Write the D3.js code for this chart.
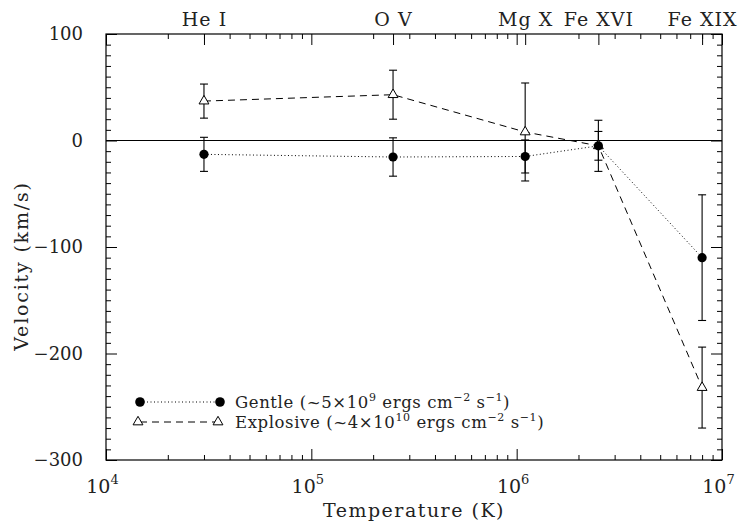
<!DOCTYPE html>
<html>
<head>
<meta charset="utf-8">
<script src="https://cdn.jsdelivr.net/npm/d3@7"></script>
<style>
  html, body { margin: 0; padding: 0; background: #fff; }
  svg { display: block; }
  text { font-family: "DejaVu Serif", serif; fill: #222; }
</style>
</head>
<body>
<svg id="chart" width="738" height="525"></svg>
<script>
// Spectral lines and their formation temperatures (K)
const ions = ["He I", "O V", "Mg X", "Fe XVI", "Fe XIX"];
const ionTemps = [3e4, 2.5e5, 1.1e6, 2.5e6, 8e6];

// Doppler velocities (km/s) and 1-sigma uncertainties
const gentleVel = [-13, -15.5, -15, -5, -110];
const gentleErr = [16, 18, 15.5, 13.5, 59];
const explosiveVel = [37, 43, 8, -5, -232];
const explosiveErr = [16, 23, 46, 24, 38];

// Axis ranges and tick values
const tempDomain = [1e4, 1e7];
const velDomain = [-300, 100];
const tempMajorExp = [4, 5, 6, 7];
const velMajorTicks = [-300, -200, -100, 0, 100];

const svg = d3.select("#chart");
const L = 106, R = 722, T = 34, B = 460;

const x = d3.scaleLog().domain(tempDomain).range([L, R]);
const y = d3.scaleLinear().domain(velDomain).range([B, T]);

const majorT = tempMajorExp.map(e => Math.pow(10, e));
const minorT = [];
for (let e = 4; e < 7; e++) for (let m = 2; m <= 9; m++) minorT.push(m * Math.pow(10, e));
const minorV = d3.range(-300, 101, 10).filter(v => v % 100 !== 0);

const MAJ = 11, MIN = 5;

function styleAxis(g) {
  g.select(".domain").remove();
  g.selectAll(".tick line").attr("stroke", "#000").attr("stroke-width", 1);
}

// bottom axis
svg.append("g").attr("transform", `translate(0,${B})`)
  .call(d3.axisBottom(x).tickValues(minorT).tickSize(-MIN).tickFormat(""))
  .call(styleAxis);
const bottomMajor = svg.append("g").attr("transform", `translate(0,${B})`)
  .call(d3.axisBottom(x).tickValues(majorT).tickSize(-MAJ).tickPadding(20))
  .call(styleAxis);
bottomMajor.selectAll(".tick text").each(function(d) {
  const t = d3.select(this).text(null)
    .attr("font-size", 19).attr("dy", "0.71em").attr("x", -4).attr("fill", "#222");
  t.append("tspan").text("10");
  t.append("tspan").attr("font-size", 13).attr("dy", "-0.75em").text(Math.round(Math.log10(d)));
});

// top axis
svg.append("g").attr("transform", `translate(0,${T})`)
  .call(d3.axisTop(x).tickValues(minorT).tickSize(-MIN).tickFormat(""))
  .call(styleAxis);
svg.append("g").attr("transform", `translate(0,${T})`)
  .call(d3.axisTop(x).tickValues(majorT).tickSize(-MAJ).tickFormat(""))
  .call(styleAxis);
const topIon = svg.append("g").attr("transform", `translate(0,${T})`)
  .call(d3.axisTop(x).tickValues(ionTemps).tickSize(-MAJ).tickPadding(8)
    .tickFormat((d, i) => ions[i]))
  .call(styleAxis);
topIon.selectAll(".tick text").attr("font-size", 19).attr("fill", "#222")
  .attr("font-family", "DejaVu Serif").style("letter-spacing", "1px");

// left axis
svg.append("g").attr("transform", `translate(${L},0)`)
  .call(d3.axisLeft(y).tickValues(minorV).tickSize(-MIN).tickFormat(""))
  .call(styleAxis);
const leftMajor = svg.append("g").attr("transform", `translate(${L},0)`)
  .call(d3.axisLeft(y).tickValues(velMajorTicks).tickSize(-MAJ).tickPadding(23))
  .call(styleAxis);
leftMajor.selectAll(".tick text").attr("font-size", 18).attr("fill", "#222")
  .attr("font-family", "DejaVu Serif");

// right axis
svg.append("g").attr("transform", `translate(${R},0)`)
  .call(d3.axisRight(y).tickValues(minorV).tickSize(-MIN).tickFormat(""))
  .call(styleAxis);
svg.append("g").attr("transform", `translate(${R},0)`)
  .call(d3.axisRight(y).tickValues(velMajorTicks).tickSize(-MAJ).tickFormat(""))
  .call(styleAxis);

// frame
svg.append("rect").attr("x", L).attr("y", T).attr("width", R - L).attr("height", B - T)
  .attr("fill", "none").attr("stroke", "#000").attr("stroke-width", 1.2);

// zero line
svg.append("line").attr("x1", L).attr("x2", R).attr("y1", y(0)).attr("y2", y(0))
  .attr("stroke", "#000").attr("stroke-width", 1.2);

// axis titles
svg.append("text").attr("x", (L + R) / 2).attr("y", 517).attr("text-anchor", "middle")
  .attr("font-size", 19).style("letter-spacing", "1.5px").text("Temperature (K)");
svg.append("text").attr("transform", "translate(28,266) rotate(-90)").attr("text-anchor", "middle")
  .attr("font-size", 19).style("letter-spacing", "1.8px").text("Velocity (km/s)");

const gentle = ionTemps.map((t, i) => ({ t, v: gentleVel[i], e: gentleErr[i] }));
const explosive = ionTemps.map((t, i) => ({ t, v: explosiveVel[i], e: explosiveErr[i] }));

const line = d3.line().x(d => x(d.t)).y(d => y(d.v));
const plot = svg.append("g");

function errorBars(data) {
  const g = plot.append("g").attr("stroke", "#000").attr("stroke-width", 1.1);
  data.forEach(d => {
    const cx = x(d.t), y1 = y(d.v + d.e), y2 = y(d.v - d.e);
    g.append("line").attr("x1", cx).attr("x2", cx).attr("y1", y1).attr("y2", y2);
    g.append("line").attr("x1", cx - 4).attr("x2", cx + 4).attr("y1", y1).attr("y2", y1);
    g.append("line").attr("x1", cx - 4).attr("x2", cx + 4).attr("y1", y2).attr("y2", y2);
  });
}

const tri = d3.symbol().type(d3.symbolTriangle).size(42);

plot.append("path").datum(explosive).attr("d", line).attr("fill", "none")
  .attr("stroke", "#000").attr("stroke-width", 1).attr("stroke-dasharray", "7,5");
plot.append("path").datum(gentle).attr("d", line).attr("fill", "none")
  .attr("stroke", "#000").attr("stroke-width", 1).attr("stroke-dasharray", "1,2.5");
errorBars(explosive);
errorBars(gentle);

plot.selectAll(".tri").data(explosive).join("path").attr("class", "tri")
  .attr("transform", d => `translate(${x(d.t)},${y(d.v)})`)
  .attr("d", tri).attr("fill", "#fff").attr("stroke", "#000").attr("stroke-width", 1);
plot.selectAll(".dot").data(gentle).join("circle").attr("class", "dot")
  .attr("cx", d => x(d.t)).attr("cy", d => y(d.v)).attr("r", 4.6).attr("fill", "#000");

// legend
const leg = svg.append("g");
const gy = 402, ey = 422, lx1 = 140, lx2 = 220, tx = 235;
leg.append("line").attr("x1", lx1).attr("x2", lx2).attr("y1", gy).attr("y2", gy)
  .attr("stroke", "#000").attr("stroke-dasharray", "1,2.5");
leg.selectAll(".lg").data([lx1, lx2]).join("circle").attr("cx", d => d).attr("cy", gy).attr("r", 4.8);
leg.append("line").attr("x1", lx1).attr("x2", lx2).attr("y1", ey).attr("y2", ey)
  .attr("stroke", "#000").attr("stroke-dasharray", "7,5");
leg.selectAll(".le").data([lx1 - 2, lx2 - 2]).join("path")
  .attr("transform", d => `translate(${d},${ey})`).attr("d", tri)
  .attr("fill", "#fff").attr("stroke", "#000");

function legendText(yPos, name, mant, exp) {
  const t = leg.append("text").attr("x", tx).attr("y", yPos + 6).attr("font-size", 16.5)
    .style("letter-spacing", "0.6px");
  t.append("tspan").text(`${name} (~${mant}×10`);
  t.append("tspan").attr("font-size", 11).attr("dy", -7).text(exp);
  t.append("tspan").attr("dy", 7).text(" ergs cm");
  t.append("tspan").attr("font-size", 11).attr("dy", -7).text("−2");
  t.append("tspan").attr("dy", 7).text(" s");
  t.append("tspan").attr("font-size", 11).attr("dy", -7).text("−1");
  t.append("tspan").attr("dy", 7).text(")");
}
legendText(gy, "Gentle", 5, "9");
legendText(ey, "Explosive", 4, "10");
</script>
</body>
</html>
